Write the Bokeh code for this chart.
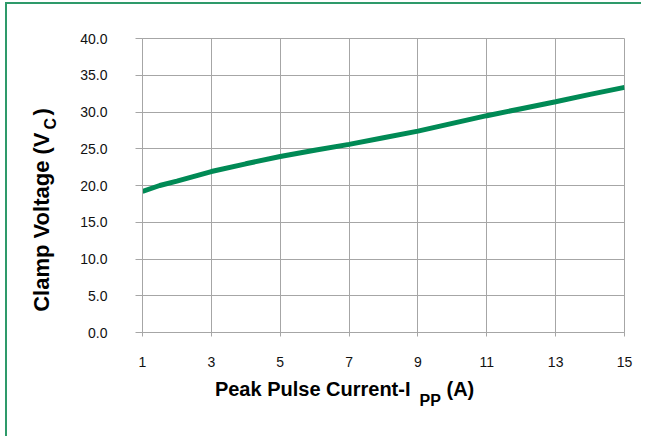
from bokeh.plotting import figure
from bokeh.models import Range1d, FixedTicker, PrintfTickFormatter, Label
from bokeh.embed import file_html
from bokeh.resources import INLINE
import math

# ---- data ----
current = [1, 1.5, 2, 3, 4, 5, 6, 7, 8, 9, 10, 11, 12, 13, 14, 15]
clamp_voltage = [19.2, 20.0, 20.6, 21.9, 22.95, 23.95, 24.8, 25.6, 26.5, 27.4,
                 28.45, 29.5, 30.45, 31.4, 32.4, 33.35]
x_ticks = [1, 3, 5, 7, 9, 11, 13, 15]
y_ticks = [0, 5, 10, 15, 20, 25, 30, 35, 40]

FONT = "Liberation Sans"
GRID = "#a6a6a6"
GREEN = "#008a55"

# figure content starts at page (7, 4): 5px/2px margin + 2px border
OX, OY = 7, 4
W, H = 636, 434
FL, FR, FT, FB = 142, 624, 38, 332          # frame edges on the page
ML, MT = FL - OX, FT - OY
MR, MB = W - (FR - OX), H - (FB - OY)

p = figure(width=W, height=H, output_backend="svg", toolbar_location=None,
           x_range=Range1d(1, 15), y_range=Range1d(0, 40),
           min_border_left=ML, min_border_right=MR,
           min_border_top=MT, min_border_bottom=MB,
           background_fill_color="white", border_fill_color="white")
p.styles = {"margin-left": "5px", "margin-top": "2px",
            "border-left": "2px solid #2e9a6a", "border-top": "2px solid #2e9a6a"}

p.outline_line_color = GRID
p.grid.grid_line_color = GRID
p.grid.grid_line_width = 1

for ax in (p.xaxis, p.yaxis):
    ax.axis_line_color = GRID
    ax.major_tick_line_color = GRID
    ax.minor_tick_line_color = None
    ax.major_tick_in = 0
    ax.major_label_text_font = FONT
    ax.major_label_text_font_size = "14px"
    ax.major_label_text_color = "#111111"

p.xaxis.ticker = FixedTicker(ticks=x_ticks)
p.yaxis.ticker = FixedTicker(ticks=y_ticks)
p.xgrid.ticker = FixedTicker(ticks=x_ticks)
p.ygrid.ticker = FixedTicker(ticks=y_ticks)
p.yaxis.formatter = PrintfTickFormatter(format="%.1f")
p.xaxis.major_tick_out = 4
p.yaxis.major_tick_out = 7
p.xaxis.major_label_standoff = 20
p.yaxis.major_label_standoff = 28

p.line(current, clamp_voltage, line_color=GREEN, line_width=5)

# page-pixel -> data helpers for placing the axis titles
def dx(px):
    return 1 + (px - FL) / (FR - FL) * 14
def dy(py):
    return (FB - py) / (FB - FT) * 40

common = dict(text_font=FONT, text_font_style="bold", text_color="#000000",
              text_baseline="alphabetic")

# x title: Peak Pulse Current-I_PP (A)
p.add_layout(Label(x=dx(410), y=dy(388), text="Peak Pulse Current-I",
                   text_align="right", text_font_size="20px", **common), "above")
p.add_layout(Label(x=dx(419), y=dy(400), text="PP",
                   text_align="left", text_font_size="16px", **common), "below")
p.add_layout(Label(x=dx(446), y=dy(388), text="(A)",
                   text_align="left", text_font_size="20px", **common), "below")

# y title: Clamp Voltage (V_C)
a = math.pi / 2
p.add_layout(Label(x=dx(40.5), y=dy(132), text="Clamp Voltage (V", angle=a,
                   text_align="right", text_font_size="22px", **common), "left")
p.add_layout(Label(x=dx(50), y=dy(129), text="C", angle=a,
                   text_align="left", text_font_size="16px", **common), "left")
p.add_layout(Label(x=dx(40.5), y=dy(115), text=")", angle=a,
                   text_align="left", text_font_size="22px", **common), "left")

open("out.html", "w").write(file_html(p, INLINE))
